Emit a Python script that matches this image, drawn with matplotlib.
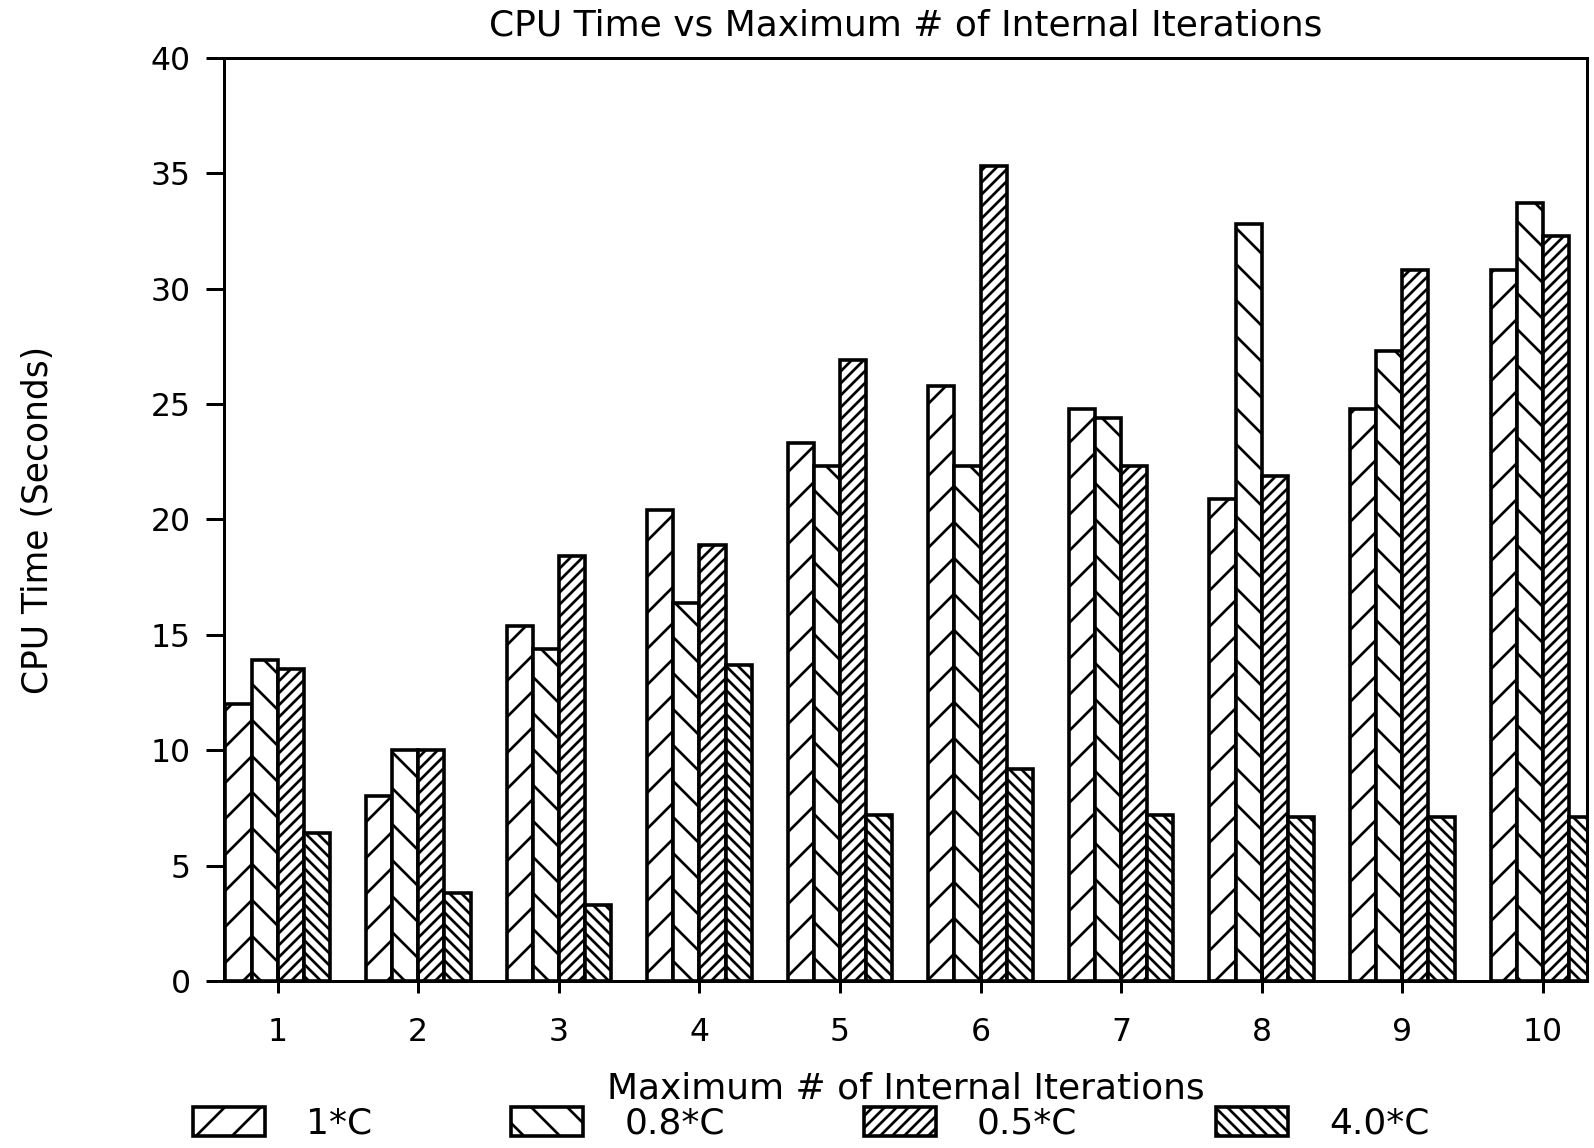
import numpy as np
import matplotlib
matplotlib.use("Agg")
from matplotlib import pyplot as plt

# CPU time (seconds) per maximum number of internal iterations
iterations = [1, 2, 3, 4, 5, 6, 7, 8, 9, 10]
c_1 = [12.0, 8.0, 15.4, 20.4, 23.3, 25.8, 24.8, 20.9, 24.8, 30.8]
c_08 = [13.9, 10.0, 14.4, 16.4, 22.3, 22.3, 24.4, 32.8, 27.3, 33.7]
c_05 = [13.5, 10.0, 18.4, 18.9, 26.9, 35.3, 22.3, 21.9, 30.8, 32.3]
c_40 = [6.4, 3.8, 3.3, 13.7, 7.2, 9.2, 7.2, 7.1, 7.1, 7.1]

series = [c_1, c_08, c_05, c_40]
labels = ["1*C", "0.8*C", "0.5*C", "4.0*C"]
hatches = ["//", "\\\\", "//////", "\\\\\\\\\\\\"]

plt.rcParams['font.family'] = ['DejaVu Sans']
plt.rcParams['hatch.linewidth'] = 0.9
plt.rcParams['hatch.color'] = 'black'

fig = plt.figure(figsize=(1594 / 216, 1148 / 216), dpi=216)
ax = fig.add_axes([0.1405, 0.1455, 0.855, 0.804])

x = np.array(iterations, dtype=float)
w = 0.186
for k, (vals, lab, h) in enumerate(zip(series, labels, hatches)):
    ax.bar(x + (k - 1.5) * w, vals, width=w, facecolor='white',
           edgecolor='black', linewidth=1.2, hatch=h, label=lab)

ax.set_xlim(0.618, 10.313)
ax.set_ylim(0, 40)
ax.set_yticks(range(0, 41, 5))
ax.set_xticks(iterations)

for s in ax.spines.values():
    s.set_linewidth(1.0)

ax.tick_params(axis='y', direction='out', length=6, width=1.0, pad=5, labelsize=10.5)
ax.tick_params(axis='x', direction='inout', length=8, width=1.0, pad=8, labelsize=10.5)

ax.set_title("CPU Time vs Maximum # of Internal Iterations", fontsize=12, pad=7.5)
ax.set_xlabel("Maximum # of Internal Iterations", fontsize=12, labelpad=8)
ax.set_ylabel("CPU Time (Seconds)", fontsize=11.5, labelpad=32)

fig.legend(loc='center', bbox_to_anchor=(0.509, 0.021), ncol=4, frameon=False,
           fontsize=12, handlelength=2.0, handleheight=0.85, handletextpad=1.15,
           columnspacing=3.85, borderpad=0.1)

plt.savefig("out.png", dpi=216)
